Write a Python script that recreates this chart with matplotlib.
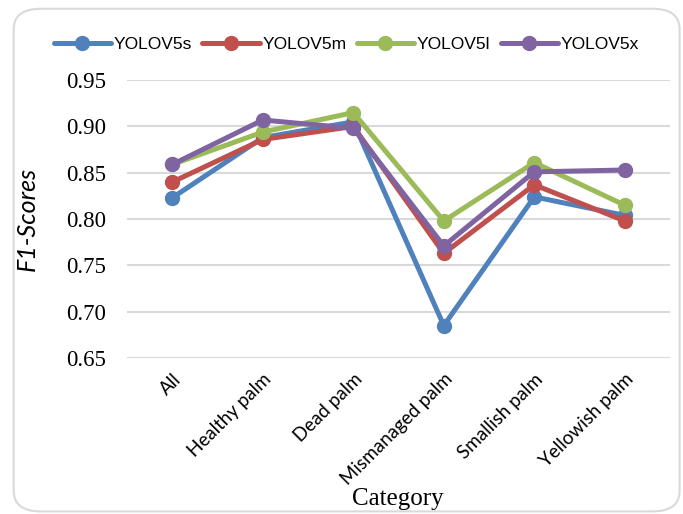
import matplotlib.pyplot as plt
from matplotlib.patches import FancyBboxPatch

plt.rcParams["font.family"] = "Liberation Serif"

categories = ["All", "Healthy palm", "Dead palm", "Mismanaged palm",
              "Smallish palm", "Yellowish palm"]
yolov5s = [0.823, 0.888, 0.905, 0.685, 0.824, 0.804]
yolov5m = [0.840, 0.886, 0.900, 0.763, 0.837, 0.798]
yolov5l = [0.859, 0.894, 0.915, 0.798, 0.861, 0.815]
yolov5x = [0.859, 0.907, 0.898, 0.771, 0.851, 0.853]
yticks = [0.65, 0.70, 0.75, 0.80, 0.85, 0.90, 0.95]

series = [
    ("YOLOV5s", yolov5s, "#4F81BD"),
    ("YOLOV5m", yolov5m, "#C0504D"),
    ("YOLOV5l", yolov5l, "#9BBB59"),
    ("YOLOV5x", yolov5x, "#8064A2"),
]

fig = plt.figure(figsize=(6.83, 5.14), dpi=100)
fig.patch.set_facecolor("white")

# rounded chart frame
frame = FancyBboxPatch((0.02, 0.005), 0.975, 0.978,
                       boxstyle="round,pad=0,rounding_size=0.04",
                       transform=fig.transFigure, facecolor="none",
                       edgecolor="#D9D9D9", linewidth=1.5, zorder=-1)
fig.patches.append(frame)

ax = fig.add_axes([0.186, 0.3035, 0.795, 0.5405])
ax.set_zorder(2)
ax.set_facecolor("none")
x = list(range(len(categories)))
for name, vals, col in series:
    ax.plot(x, vals, color=col, linewidth=3.6, marker="o", markersize=10,
            label=name, solid_capstyle="round")

ax.set_xlim(-0.5, len(categories) - 0.5)
ax.set_ylim(0.65, 0.95)
ax.set_yticks(yticks)
ax.set_yticklabels([f"{v:.2f}" for v in yticks])
ax.set_xticks(x)
ax.set_xticklabels(categories, rotation=45, ha="right",
                   rotation_mode="anchor")
ax.tick_params(axis="y", length=0, pad=15, labelsize=16.5)
ax.tick_params(axis="x", length=0, pad=9, labelsize=13.5,
               labelfontfamily="Lato")
for s in ax.spines.values():
    s.set_visible(False)
ax.grid(axis="y", color="#D9D9D9", linewidth=1.5)
ax.set_axisbelow(True)

ax.set_ylabel("F1-Scores", fontfamily="Lato", fontstyle="italic",
              fontsize=18, labelpad=20)
fig.text(0.582, 0.03, "Category", fontsize=18, ha="center", va="center")

leg = fig.legend(loc="center", bbox_to_anchor=(0.507, 0.913), ncol=4,
                 frameon=False, handlelength=3.3, columnspacing=0.6,
                 handletextpad=0.15,
                 prop={"family": "Liberation Sans", "size": 12.5})

fig.savefig("out.png", dpi=100)
